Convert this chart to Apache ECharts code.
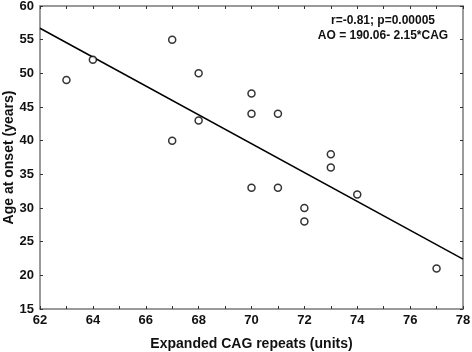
<!DOCTYPE html>
<html>
<head>
<meta charset="utf-8">
<script src="https://cdn.jsdelivr.net/npm/echarts@6/dist/echarts.min.js"></script>
<style>
  html, body { margin: 0; padding: 0; background: #fff; }
  #container { width: 472px; height: 352px; }
</style>
</head>
<body>
<div id="container"></div>
<script>
// observed points: CAG repeats vs age at onset
const cagRepeats = [63, 64, 67, 67, 68, 68, 70, 70, 70, 71, 71, 72, 72, 73, 73, 74, 77];
const ageAtOnset = [49, 52, 55, 40, 50, 43, 47, 44, 33, 44, 33, 30, 28, 38, 36, 32, 21];

// regression line end points
const fitX = [62, 78];
const fitY = [56.7, 22.4];

const statsLines = ['r=-0.81; p=0.00005', 'AO = 190.06- 2.15*CAG'];

const font = 'Arial, "Liberation Sans", sans-serif';
const axisGray = '#7a7a7a';

const tickStyle = { inside: true, length: 3, lineStyle: { color: '#333' } };
const minorStyle = { show: true, splitNumber: 2, length: 3, lineStyle: { color: '#333' } };
const lineStyle = { onZero: false, lineStyle: { color: axisGray, width: 1.5 } };

let chartDom = document.getElementById('container');
let chrt = echarts.init(chartDom, null, { renderer: 'canvas' });

let option = {
    animation: false,
    grid: {
        left: 40,
        right: 9,
        top: 6,
        bottom: 43,
        outerBoundsMode: 'none',
        containLabel: false
    },
    xAxis: [
        {
            type: 'value',
            min: 62,
            max: 78,
            interval: 2,
            name: 'Expanded CAG repeats (units)',
            nameLocation: 'middle',
            nameGap: 28,
            nameMoveOverlap: false,
            nameTextStyle: { fontFamily: font, fontWeight: 'bold', fontSize: 14, color: '#111' },
            axisLine: lineStyle,
            axisTick: tickStyle,
            minorTick: minorStyle,
            splitLine: { show: false },
            axisLabel: { fontFamily: font, fontWeight: 'bold', fontSize: 13, color: '#111', margin: 5 }
        },
        {
            // mirror axis on top: ticks only
            type: 'value',
            position: 'top',
            min: 62,
            max: 78,
            interval: 2,
            axisLine: lineStyle,
            axisTick: tickStyle,
            minorTick: minorStyle,
            splitLine: { show: false },
            axisLabel: { show: false }
        }
    ],
    yAxis: [
        {
            type: 'value',
            min: 15,
            max: 60,
            interval: 5,
            name: 'Age at onset (years)',
            nameLocation: 'middle',
            nameGap: 24,
            nameMoveOverlap: false,
            nameTextStyle: { fontFamily: font, fontWeight: 'bold', fontSize: 14, color: '#111' },
            axisLine: lineStyle,
            axisTick: tickStyle,
            splitLine: { show: false },
            axisLabel: { fontFamily: font, fontWeight: 'bold', fontSize: 13, color: '#111', margin: 6 }
        },
        {
            // mirror axis on the right: ticks only
            type: 'value',
            position: 'right',
            min: 15,
            max: 60,
            interval: 5,
            axisLine: lineStyle,
            axisTick: tickStyle,
            splitLine: { show: false },
            axisLabel: { show: false }
        }
    ],
    graphic: [
        {
            type: 'text',
            x: 383,
            y: 13,
            style: {
                text: statsLines.join('\n'),
                font: 'bold 12px ' + font,
                fill: '#111',
                align: 'center',
                verticalAlign: 'top',
                lineHeight: 15
            }
        }
    ],
    series: [
        {
            type: 'line',
            data: fitX.map((x, i) => [x, fitY[i]]),
            showSymbol: false,
            lineStyle: { color: '#000', width: 1.5 },
            z: 2
        },
        {
            type: 'scatter',
            data: cagRepeats.map((x, i) => [x, ageAtOnset[i]]),
            symbol: 'circle',
            symbolSize: 7,
            itemStyle: { color: '#fff', borderColor: '#000', borderWidth: 1.5 },
            z: 3
        }
    ]
};

chrt.setOption(option);
</script>
</body>
</html>
